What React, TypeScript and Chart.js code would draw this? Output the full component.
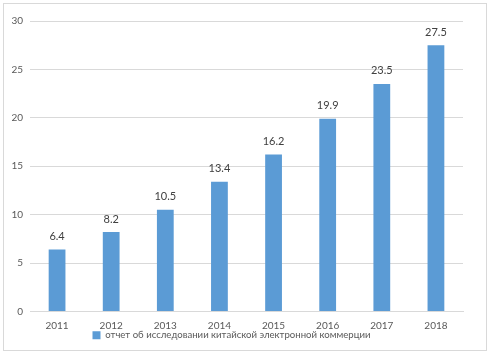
import React, { useEffect, useRef } from "react";
import { Chart, registerables } from "chart.js";

Chart.register(...registerables);

const categories = ["2011", "2012", "2013", "2014", "2015", "2016", "2017", "2018"];
const values = [6.4, 8.2, 10.5, 13.4, 16.2, 19.9, 23.5, 27.5];
const seriesLabel = "отчет об исследовании китайской электронной коммерции";
const yTicksMax = 30;
const yTicksStep = 5;

const FONT = "Lato, 'Open Sans', sans-serif";

const valueLabels = {
  id: "valueLabels",
  afterDatasetsDraw(chart: any) {
    const ctx = chart.ctx;
    const meta = chart.getDatasetMeta(0);
    ctx.save();
    ctx.font = `11px ${FONT}`;
    ctx.fillStyle = "#404040";
    ctx.textAlign = "center";
    ctx.textBaseline = "middle";
    meta.data.forEach((el: any, i: number) => {
      const v = chart.data.datasets[0].data[i];
      ctx.fillText(String(v), el.x, el.y - 13);
    });
    ctx.restore();
  },
};

export default function App() {
  const ref = useRef<HTMLCanvasElement | null>(null);
  useEffect(() => {
    if (!ref.current) return;
    const chart = new Chart(ref.current, {
      type: "bar",
      data: {
        labels: categories,
        datasets: [
          {
            label: seriesLabel,
            data: values,
            backgroundColor: "#5B9BD5",
            borderWidth: 0,
            categoryPercentage: 1,
            barPercentage: 0.31,
          },
        ],
      },
      options: {
        responsive: false,
        animation: false,
        layout: { padding: { left: 0, right: 27, top: 21, bottom: 3 } },
        plugins: {
          tooltip: { enabled: false },
          legend: {
            position: "bottom",
            labels: {
              boxWidth: 8,
              boxHeight: 8,
              padding: 0,
              color: "#595959",
              font: { family: FONT, size: 9.6 },
            },
          },
        },
        scales: {
          x: {
            afterFit: (s: any) => {
              s.height = 19;
            },
            grid: { display: false, drawTicks: false },
            border: { display: true, color: "#d9d9d9" },
            ticks: { color: "#595959", font: { family: FONT, size: 10 }, padding: 8 },
          },
          y: {
            min: 0,
            max: yTicksMax,
            afterFit: (s: any) => {
              s.width = 30;
            },
            grid: { color: "#d9d9d9", drawTicks: false },
            border: { display: false },
            ticks: {
              stepSize: yTicksStep,
              color: "#595959",
              font: { family: FONT, size: 10 },
              padding: 7,
            },
          },
        },
      },
      plugins: [valueLabels],
    });
    return () => chart.destroy();
  }, []);
  return (
    <div style={{ position: "absolute", left: 0, top: 0, width: 490, height: 353, background: "#fff" }}>
      <div
        style={{
          position: "absolute",
          left: 3,
          top: 3,
          width: 484,
          height: 348,
          boxSizing: "border-box",
          border: "1px solid #d9d9d9",
        }}
      />
      <canvas ref={ref} width={490} height={353} style={{ position: "absolute", left: 0, top: 0 }} />
    </div>
  );
}
